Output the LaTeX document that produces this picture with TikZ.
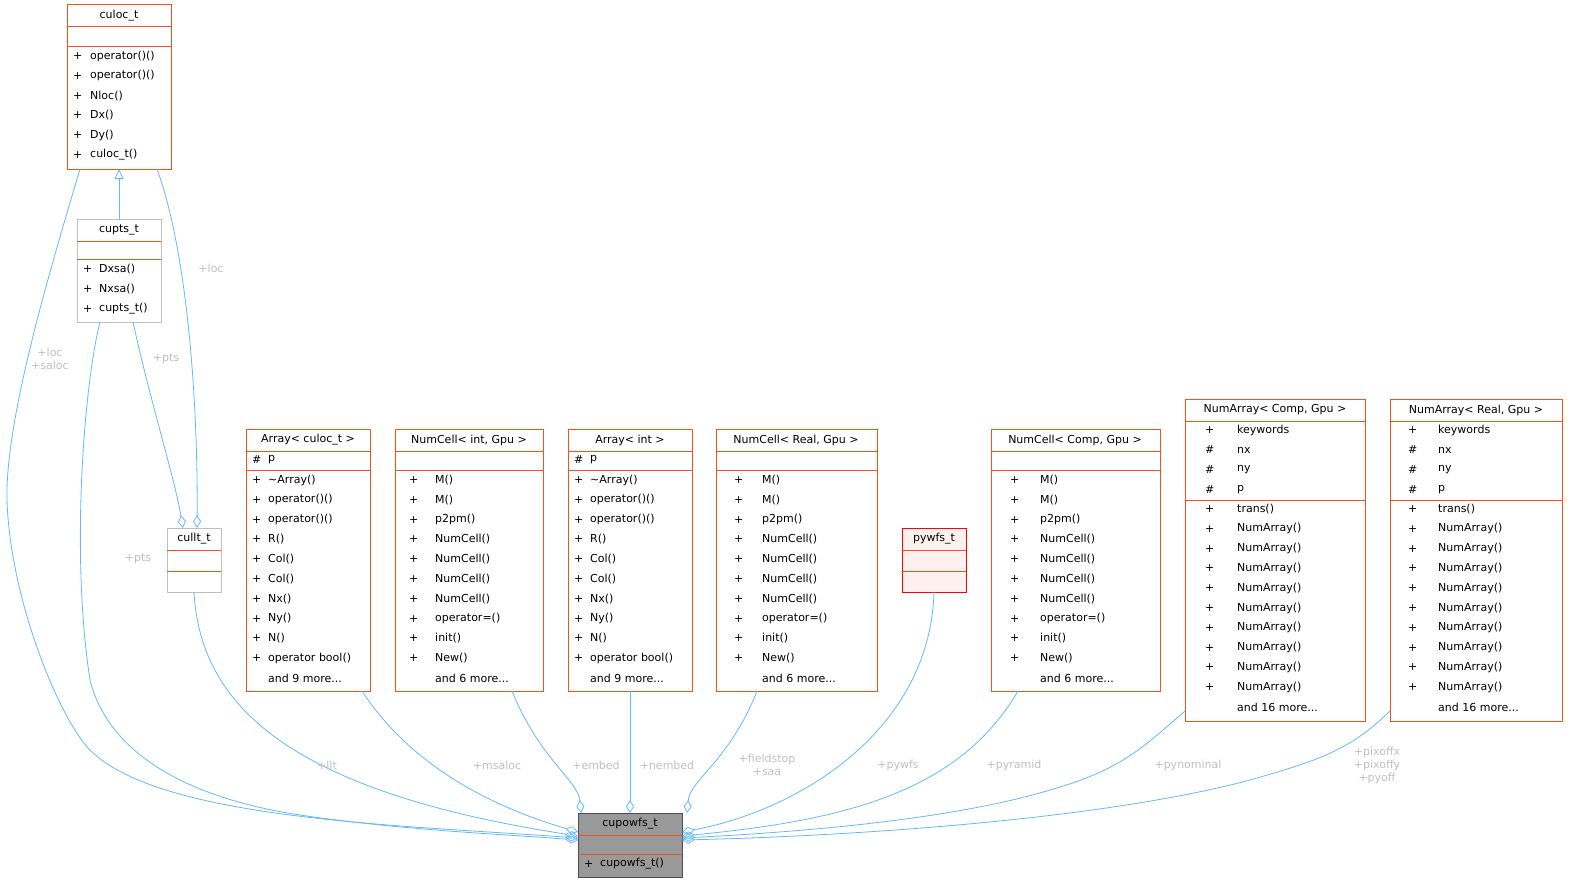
\documentclass[tikz,border=0pt]{standalone}
\usepackage{fontspec}
\setmainfont{DejaVu Sans}
\usetikzlibrary{arrows.meta}
\definecolor{bord}{HTML}{F4511E}
\definecolor{gbord}{HTML}{BFBFBF}
\definecolor{edge}{HTML}{63B8FF}
\definecolor{lab}{HTML}{BFBFBF}
\definecolor{pyfill}{HTML}{FFF0F0}
\tikzset{
 box/.style={draw=bord,line width=1pt,inner sep=0,outer sep=0},
 txt/.style={anchor=west,inner sep=0,font=\fontsize{11}{13}\selectfont},
 hd/.style={inner sep=0,font=\fontsize{11}{13}\selectfont},
 lbl/.style={inner sep=0,text=lab,align=center,font=\fontsize{11}{13}\selectfont},
 rel/.style={draw=edge,line width=0.8pt,-{Diamond[open,length=13pt,width=8pt]}},
 inh/.style={draw=edge,line width=0.8pt,-{Triangle[open,length=10pt,width=9pt]}}
}
\newcommand{\mem}[5]{\node[txt] at (#1,#3) {#4}; \node[txt] at (#2,#3) {#5};}
\newcommand{\boxx}[7]{% name x1 y1 x2 y2 line1 line2
 \node[box,#1/.try,minimum width={#4-#2},minimum height={#5-#3}] (#1) at ({(#2+#4)/2},{(#3+#5)/2}) {};
 \draw[#1/.try,draw=bord,line width=1pt] (#2,#6) -- (#4,#6) (#2,#7) -- (#4,#7);}
\begin{document}
\begin{tikzpicture}[x=1pt,y=-1pt]
\useasboundingbox (0,0) rectangle (1582,891);
% culoc_t
\boxx{culoc}{67}{5}{171}{169}{27}{47}
\node[hd] at (119,16) {culoc\_t};
\foreach \n [count=\i from 0] in {operator()(),operator()(),Nloc(),Dx(),Dy(),culoc\_t()}
 {\mem{73}{90}{56+19.8*\i}{+}{\n}}
% cupts_t
\tikzset{cupts/.style={draw=gbord},cullt/.style={draw=gbord},pywfs/.style={draw=red,fill=pyfill},cupowfs/.style={draw=black!70,fill=black!40}}
\boxx{cupts}{77}{219}{161}{322}{241}{259}
\node[hd] at (119,230) {cupts\_t};
\foreach \n [count=\i from 0] in {Dxsa(),Nxsa(),cupts\_t()}
 {\mem{83}{99}{269+19.8*\i}{+}{\n}}
% cullt_t
\boxx{cullt}{167}{528}{221}{592}{550}{571}
\node[hd] at (194,539) {cullt\_t};
% Array<culoc_t>
\boxx{arrc}{246}{429}{370}{691}{451}{470}
\node[hd] at (308,440) {Array< culoc\_t >};
\mem{252}{268}{460}{\#}{p}
\foreach \n [count=\i from 0] in {\textasciitilde Array(),operator()(),operator()(),R(),Col(),Col(),Nx(),Ny(),N(),operator bool()}
 {\mem{252}{268}{480+19.8*\i}{+}{\n}}
\node[txt] at (268,678) {and 9 more...};
% NumCell<int,Gpu>
\boxx{nci}{395}{429}{543}{691}{451}{470}
\node[hd] at (469,440) {NumCell< int, Gpu >};
\foreach \n [count=\i from 0] in {M(),M(),p2pm(),NumCell(),NumCell(),NumCell(),NumCell(),operator=(),init(),New()}
 {\mem{409}{435}{480+19.8*\i}{+}{\n}}
\node[txt] at (435,678) {and 6 more...};
% Array<int>
\boxx{arri}{568}{429}{692}{691}{451}{470}
\node[hd] at (630,440) {Array< int >};
\mem{574}{590}{460}{\#}{p}
\foreach \n [count=\i from 0] in {\textasciitilde Array(),operator()(),operator()(),R(),Col(),Col(),Nx(),Ny(),N(),operator bool()}
 {\mem{574}{590}{480+19.8*\i}{+}{\n}}
\node[txt] at (590,678) {and 9 more...};
% NumCell<Real,Gpu>
\boxx{ncr}{716}{429}{877}{691}{451}{470}
\node[hd] at (796,440) {NumCell< Real, Gpu >};
\foreach \n [count=\i from 0] in {M(),M(),p2pm(),NumCell(),NumCell(),NumCell(),NumCell(),operator=(),init(),New()}
 {\mem{734}{762}{480+19.8*\i}{+}{\n}}
\node[txt] at (762,678) {and 6 more...};
% pywfs_t
\boxx{pywfs}{902}{528}{966}{592}{550}{571}
\node[hd] at (934,539) {pywfs\_t};
% NumCell<Comp,Gpu>
\boxx{ncc}{991}{429}{1160}{691}{451}{470}
\node[hd] at (1075,440) {NumCell< Comp, Gpu >};
\foreach \n [count=\i from 0] in {M(),M(),p2pm(),NumCell(),NumCell(),NumCell(),NumCell(),operator=(),init(),New()}
 {\mem{1010}{1040}{480+19.8*\i}{+}{\n}}
\node[txt] at (1040,678) {and 6 more...};
% NumArray<Comp,Gpu>
\boxx{nac}{1185}{399}{1365}{721}{421}{500}
\node[hd] at (1275,410) {NumArray< Comp, Gpu >};
\mem{1205}{1237}{430}{+}{keywords}
\mem{1205}{1237}{450}{\#}{nx}
\mem{1205}{1237}{470}{\#}{ny}
\mem{1205}{1237}{490}{\#}{p}
\foreach \n [count=\i from 0] in {trans(),NumArray(),NumArray(),NumArray(),NumArray(),NumArray(),NumArray(),NumArray(),NumArray(),NumArray()}
 {\mem{1205}{1237}{509+19.8*\i}{+}{\n}}
\node[txt] at (1237,707) {and 16 more...};
% NumArray<Real,Gpu>
\boxx{nar}{1390}{399}{1562}{721}{421}{500}
\node[hd] at (1476,410) {NumArray< Real, Gpu >};
\mem{1408}{1438}{430}{+}{keywords}
\mem{1408}{1438}{450}{\#}{nx}
\mem{1408}{1438}{470}{\#}{ny}
\mem{1408}{1438}{490}{\#}{p}
\foreach \n [count=\i from 0] in {trans(),NumArray(),NumArray(),NumArray(),NumArray(),NumArray(),NumArray(),NumArray(),NumArray(),NumArray()}
 {\mem{1408}{1438}{509+19.8*\i}{+}{\n}}
\node[txt] at (1438,707) {and 16 more...};
% cupowfs_t
\boxx{cupowfs}{578}{813}{682}{877}{835}{854}
\node[hd] at (630,824) {cupowfs\_t};
\mem{584}{600}{864}{+}{cupowfs\_t()}
% edges
\draw[inh] (cupts.north) -- (119,169);
\draw[rel] (133,322) .. controls (150,400) and (175,480) .. (183,528);
\draw[rel] (157,169) .. controls (190,260) and (198,420) .. (197,528);
\draw[rel] (80,169) .. controls (50,270) and (5,420) .. (7,500) .. controls (10,600) and (60,720) .. (90,750) .. controls (160,820) and (400,825) .. (578,838);
\draw[rel] (100,322) .. controls (85,380) and (70,550) .. (90,680) .. controls (110,760) and (200,800) .. (300,815) .. controls (400,830) and (500,834) .. (578,840);
\draw[rel] (cullt.south) .. controls (200,700) and (280,790) .. (578,836);
\draw[rel] (362,691) .. controls (420,780) and (520,815) .. (578,832);
\draw[rel] (512,691) .. controls (540,760) and (578,780) .. (581,813);
\draw[rel] (arri.south) -- (630,813);
\draw[rel] (757,691) .. controls (730,760) and (690,780) .. (687,813);
\draw[rel] (pywfs.south) .. controls (930,730) and (800,810) .. (682,832);
\draw[rel] (1018,691) .. controls (960,790) and (850,820) .. (682,836);
\draw[rel] (1185,711) .. controls (1140,750) and (1120,770) .. (1050,790) .. controls (950,820) and (800,832) .. (682,838);
\draw[rel] (1390,711) .. controls (1350,750) and (1320,760) .. (1250,780) .. controls (1100,820) and (850,836) .. (682,840);
% labels
\node[lbl] at (50,359) {+loc\\+saloc};
\node[lbl] at (138,559) {+pts};
\node[lbl] at (166,359) {+pts};
\node[lbl] at (211,268) {+loc};
\node[lbl] at (327,765) {+llt};
\node[lbl] at (497,765) {+msaloc};
\node[lbl] at (596,765) {+embed};
\node[lbl] at (667,765) {+nembed};
\node[lbl] at (767,765) {+fieldstop\\+saa};
\node[lbl] at (898,765) {+pywfs};
\node[lbl] at (1014,765) {+pyramid};
\node[lbl] at (1188,765) {+pynominal};
\node[lbl] at (1377,765) {+pixoffx\\+pixoffy\\+pyoff};
\end{tikzpicture}
\end{document}
